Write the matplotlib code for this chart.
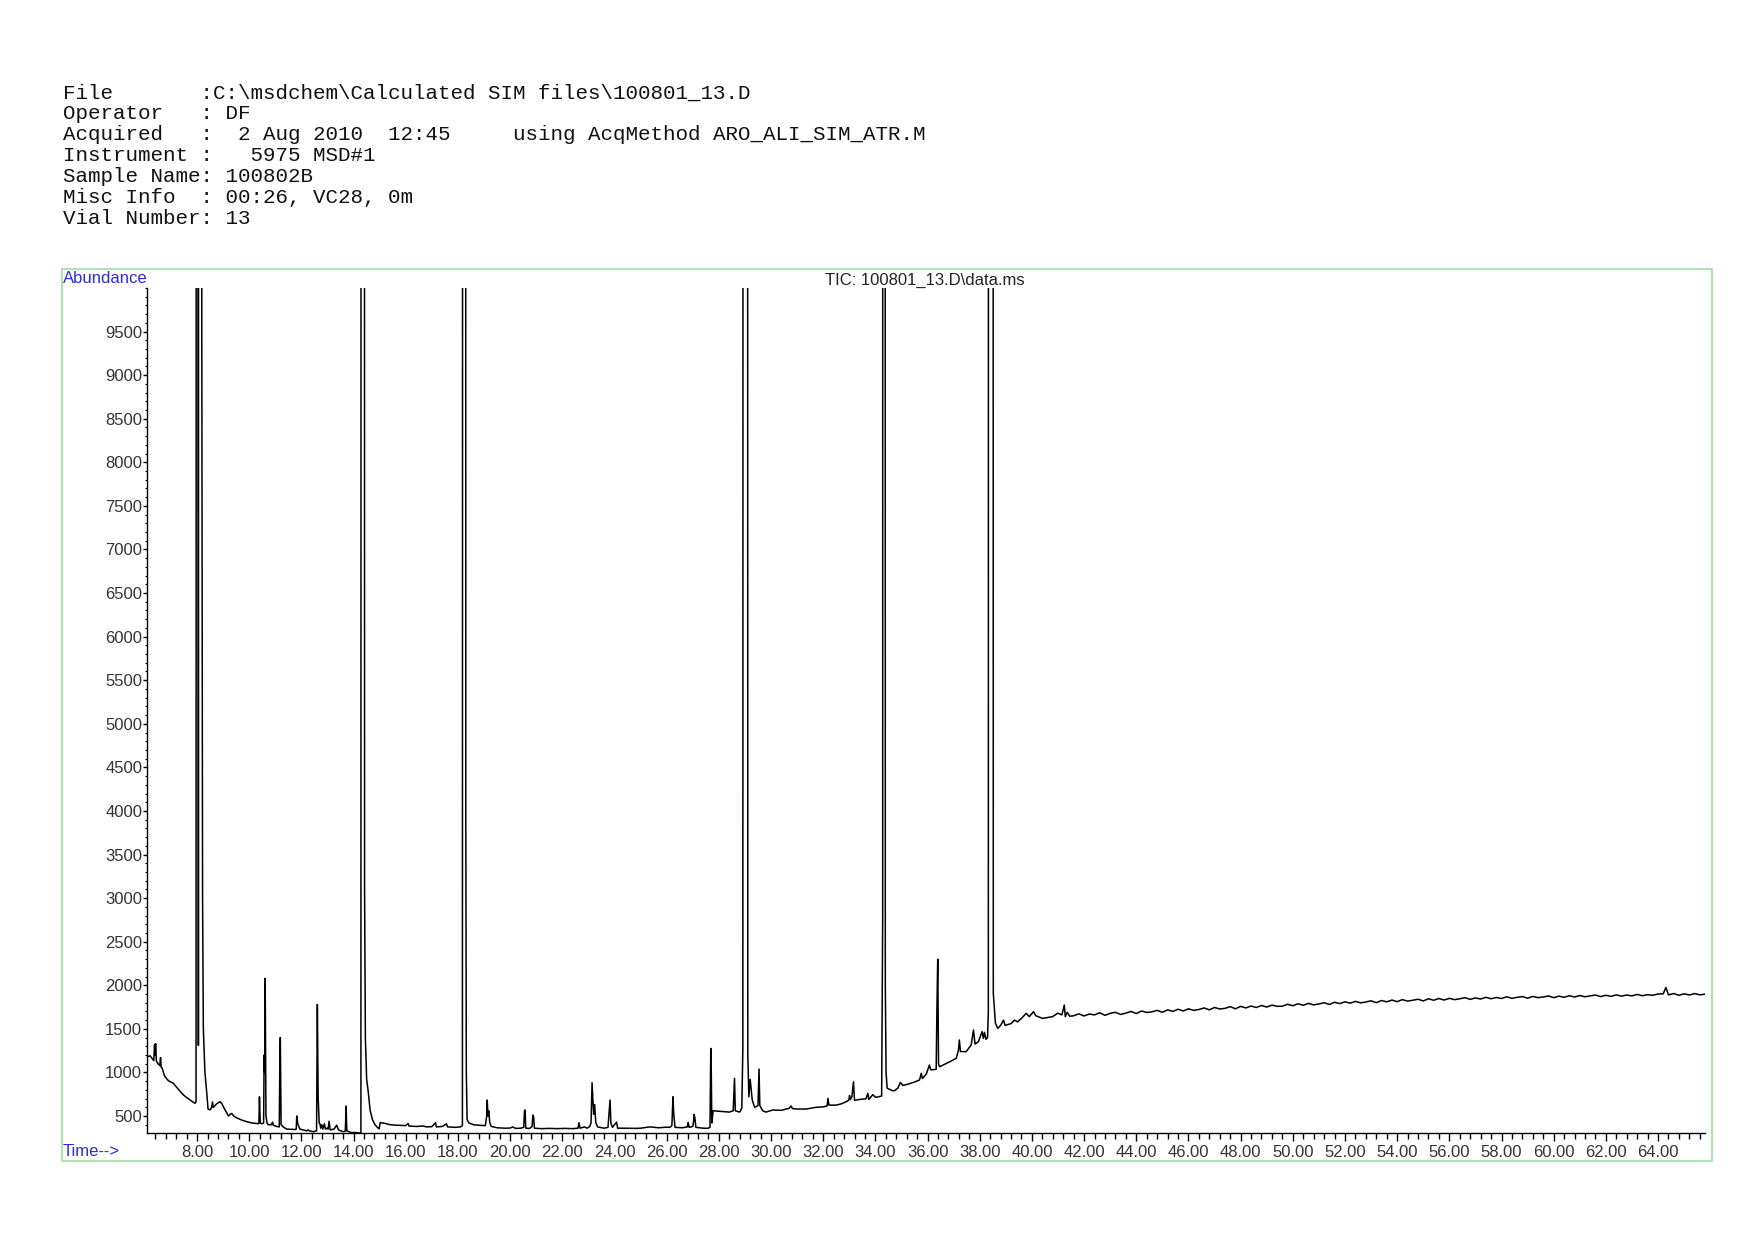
import numpy as np
import matplotlib
matplotlib.use("Agg")
import matplotlib.pyplot as plt
from matplotlib.patches import Rectangle
from matplotlib.ticker import MultipleLocator, FixedLocator

SAT = 60000  # peaks that run off the top of the scale

header_lines = [
    "File       :C:\\msdchem\\Calculated SIM files\\100801_13.D",
    "Operator   : DF",
    "Acquired   :  2 Aug 2010  12:45     using AcqMethod ARO_ALI_SIM_ATR.M",
    "Instrument :   5975 MSD#1",
    "Sample Name: 100802B",
    "Misc Info  : 00:26, VC28, 0m",
    "Vial Number: 13",
]
plot_title = "TIC: 100801_13.D\\data.ms"

# (retention time in min, abundance)
seg_early = [
    (6.08, 1180), (6.20, 1190), (6.30, 1150), (6.34, 1135), (6.37, 1320), (6.39, 1200),
    (6.41, 1330), (6.44, 1130), (6.50, 1100), (6.57, 1080), (6.60, 1170), (6.62, 1060),
    (6.66, 1050), (6.75, 960), (6.90, 905), (7.09, 875), (7.30, 800), (7.48, 740),
    (7.70, 690), (7.92, 645), (7.96, 660), (7.99, SAT), (8.03, SAT), (8.05, 1310),
    (8.06, SAT), (8.13, SAT), (8.18, 9500), (8.21, 3000), (8.24, 1500), (8.30, 1000),
    (8.36, 800), (8.42, 580), (8.50, 570), (8.56, 600), (8.59, 660), (8.62, 600),
    (8.66, 610), (8.75, 640), (8.88, 665), (8.95, 640), (9.07, 570), (9.13, 540),
    (9.20, 500), (9.27, 520), (9.33, 530), (9.40, 500), (9.51, 480), (9.70, 455),
    (9.90, 435), (10.10, 420), (10.35, 412), (10.37, 415), (10.39, 720), (10.42, 420),
    (10.48, 410), (10.55, 420), (10.57, 1200), (10.59, 1000), (10.61, 2080), (10.64, 500),
    (10.68, 420), (10.73, 400), (10.85, 400), (10.89, 430), (10.92, 395), (11.05, 380),
    (11.15, 375), (11.17, 1050), (11.19, 1400), (11.22, 400), (11.30, 375), (11.43, 350),
    (11.75, 345), (11.80, 350), (11.82, 500), (11.86, 410), (11.94, 350), (12.20, 330),
    (12.25, 340), (12.30, 330), (12.46, 320), (12.58, 330), (12.61, 1780), (12.64, 720),
    (12.68, 420), (12.71, 410), (12.74, 360), (12.78, 400), (12.82, 350), (12.88, 410),
    (12.92, 350), (12.98, 360), (13.02, 350), (13.06, 440), (13.10, 340), (13.25, 350),
    (13.35, 395), (13.42, 340), (13.60, 320), (13.68, 325), (13.70, 490), (13.71, 615),
    (13.74, 330), (13.90, 310), (14.10, 310), (14.24, 305), (14.28, 310),
]

seg_mid = [
    (14.30, SAT), (14.40, SAT), (14.42, 3100), (14.45, 1400), (14.50, 920), (14.56, 780),
    (14.63, 570), (14.72, 460), (14.82, 400), (14.94, 360), (14.98, 355), (15.02, 425),
    (15.20, 415), (15.40, 400), (15.60, 395), (16.00, 390), (16.09, 415), (16.12, 385),
    (16.40, 380), (16.67, 385), (16.80, 375), (17.00, 378), (17.14, 423), (17.17, 375),
    (17.40, 380), (17.56, 410), (17.60, 375), (17.90, 370), (18.10, 375), (18.17, 390),
    (18.20, SAT), (18.28, SAT), (18.30, 3900), (18.32, 1000), (18.35, 460), (18.42, 420),
    (18.60, 400), (18.84, 393), (19.05, 390), (19.10, 500), (19.12, 683), (19.15, 500),
    (19.18, 560), (19.22, 420), (19.28, 380), (19.50, 365), (19.80, 360), (20.00, 362),
    (20.10, 375), (20.20, 358), (20.40, 360), (20.52, 370), (20.55, 560), (20.57, 569),
    (20.60, 360), (20.75, 358), (20.84, 380), (20.87, 511), (20.90, 490), (20.93, 360),
    (21.20, 355), (21.50, 358), (21.80, 355), (22.10, 358), (22.40, 355), (22.60, 360),
    (22.64, 423), (22.68, 360), (22.85, 375), (22.95, 360), (23.05, 380), (23.10, 420),
    (23.14, 882), (23.17, 700), (23.20, 520), (23.24, 630), (23.28, 430), (23.35, 375),
    (23.60, 360), (23.75, 370), (23.80, 560), (23.83, 683), (23.86, 420), (23.92, 370),
    (24.08, 430), (24.12, 360), (24.40, 360), (24.80, 358), (25.00, 360), (25.35, 375),
    (25.70, 365), (26.00, 372), (26.12, 370), (26.20, 390), (26.24, 721), (26.27, 530),
    (26.32, 370), (26.60, 365), (26.79, 375), (26.82, 428), (26.86, 370), (27.00, 380),
    (27.03, 430), (27.05, 519), (27.08, 480), (27.12, 370), (27.40, 360), (27.58, 359),
    (27.66, 370), (27.69, 1276), (27.71, 985), (27.73, 420), (27.78, 560), (28.00, 555),
    (28.20, 550), (28.40, 545), (28.55, 560), (28.60, 932), (28.63, 560), (28.80, 545),
    (28.88, 590), (28.92, 1276),
]

seg_late = [
    (28.95, SAT), (29.07, SAT), (29.11, 1200), (29.15, 720), (29.20, 921), (29.24, 800),
    (29.28, 683), (29.37, 600), (29.50, 620), (29.54, 1039), (29.57, 620), (29.68, 560),
    (29.80, 545), (30.07, 569), (30.40, 565), (30.70, 590), (30.77, 615), (30.82, 585),
    (31.00, 580), (31.35, 580), (31.73, 600), (32.00, 605), (32.15, 615), (32.18, 703),
    (32.22, 625), (32.50, 625), (32.70, 640), (32.88, 664), (32.98, 680), (33.01, 735),
    (33.04, 690), (33.10, 720), (33.16, 893), (33.20, 680), (33.40, 690), (33.64, 698),
    (33.71, 760), (33.75, 690), (33.90, 745), (34.00, 715), (34.14, 721), (34.24, 730),
    (34.28, 2800), (34.29, SAT), (34.36, SAT), (34.38, 2000), (34.41, 1000), (34.45, 820),
    (34.54, 806), (34.66, 790), (34.73, 790), (34.86, 820), (34.96, 886), (35.05, 850),
    (35.30, 870), (35.50, 890), (35.69, 913), (35.76, 990), (35.80, 930), (35.95, 980),
    (36.07, 1085), (36.12, 1030), (36.33, 1035), (36.36, 1760), (36.39, 2300), (36.42, 1100),
    (36.46, 1065), (36.70, 1100), (36.90, 1130), (37.10, 1162), (37.18, 1250), (37.22, 1372),
    (37.26, 1240), (37.48, 1238), (37.67, 1314), (37.76, 1486), (37.82, 1326), (37.95, 1353),
    (38.09, 1468), (38.14, 1390), (38.18, 1460), (38.24, 1380), (38.30, 1400), (38.33, 1700),
    (38.35, SAT), (38.48, SAT), (38.52, 1907), (38.60, 1566), (38.69, 1505), (38.80, 1540),
    (38.91, 1600), (38.97, 1540), (39.20, 1560), (39.33, 1600), (39.45, 1580), (39.60, 1620),
    (39.78, 1678), (39.90, 1640), (40.06, 1697), (40.15, 1650), (40.41, 1620), (40.60, 1630),
    (40.79, 1640), (40.99, 1680), (41.15, 1660), (41.24, 1773), (41.28, 1640), (41.35, 1690),
    (41.45, 1645),
]

seg_tail = [
    (41.6, 1650), (41.8, 1672), (42.0, 1648), (42.2, 1670), (42.4, 1660), (42.6, 1685),
    (42.8, 1655), (43.0, 1678), (43.2, 1690), (43.4, 1665), (43.6, 1680), (43.8, 1700),
    (44.0, 1675), (44.2, 1705), (44.4, 1688), (44.6, 1695), (44.8, 1712), (45.0, 1690),
    (45.2, 1718), (45.4, 1700), (45.6, 1725), (45.8, 1705), (46.0, 1730), (46.2, 1712),
    (46.4, 1722), (46.6, 1740), (46.8, 1718), (47.0, 1745), (47.2, 1728), (47.4, 1735),
    (47.6, 1755), (47.8, 1730), (48.0, 1758), (48.2, 1740), (48.4, 1762), (48.6, 1745),
    (48.8, 1768), (49.0, 1750), (49.2, 1772), (49.4, 1758), (49.6, 1760), (49.8, 1782),
    (50.0, 1765), (50.2, 1788), (50.4, 1770), (50.6, 1792), (50.8, 1775), (51.0, 1785),
    (51.2, 1800), (51.4, 1780), (51.6, 1805), (51.8, 1790), (52.0, 1810), (52.2, 1795),
    (52.4, 1815), (52.6, 1798), (52.8, 1808), (53.0, 1822), (53.2, 1800), (53.4, 1825),
    (53.6, 1810), (53.8, 1830), (54.0, 1812), (54.2, 1835), (54.4, 1818), (54.6, 1828),
    (54.8, 1840), (55.0, 1820), (55.2, 1845), (55.4, 1828), (55.6, 1848), (55.8, 1830),
    (56.0, 1850), (56.2, 1835), (56.4, 1845), (56.6, 1858), (56.8, 1838), (57.0, 1855),
    (57.2, 1842), (57.4, 1862), (57.6, 1845), (57.8, 1860), (58.0, 1848), (58.2, 1868),
    (58.4, 1850), (58.6, 1862), (58.8, 1870), (59.0, 1852), (59.2, 1872), (59.4, 1858),
    (59.6, 1865), (59.8, 1878), (60.0, 1858), (60.2, 1875), (60.4, 1862), (60.6, 1880),
    (60.8, 1865), (61.0, 1882), (61.2, 1868), (61.4, 1878), (61.6, 1888), (61.8, 1870),
    (62.0, 1885), (62.2, 1872), (62.4, 1890), (62.6, 1875), (62.8, 1888), (63.0, 1878),
    (63.2, 1895), (63.4, 1880), (63.6, 1892), (63.8, 1885), (64.0, 1900), (64.2, 1902),
    (64.3, 1975), (64.4, 1890), (64.6, 1905), (64.8, 1885), (65.0, 1902), (65.2, 1888),
    (65.4, 1905), (65.6, 1890), (65.8, 1898),
]

x_major = list(range(8, 65, 2))
y_major = list(range(500, 10000, 500))


def main():
    W, H = 1754, 1240
    fig = plt.figure(figsize=(W / 100, H / 100), dpi=100)
    fig.patch.set_facecolor("white")

    # header block, monospaced like the printout
    for i, line in enumerate(header_lines):
        fig.text(63 / W, 1 - (92.8 + 20.9 * i) / H, line, family="Liberation Mono",
                 fontsize=15.05, va="center", ha="left", color="#111111")

    # light green frame round the plot
    fig.add_artist(Rectangle((62 / W, 1 - 1161 / H), (1712 - 62) / W, (1161 - 269) / H,
                             transform=fig.transFigure, fill=False,
                             edgecolor="#a6e3a6", linewidth=1.3))

    ax = fig.add_axes([147 / W, 1 - 1133 / H, (1705 - 147) / W, (1133 - 288) / H])

    pts = seg_early + seg_mid + seg_late + seg_tail
    t = np.array([p[0] for p in pts])
    a = np.array([p[1] for p in pts])
    ax.plot(t, a, color="black", linewidth=1.1)

    ax.set_xlim(6.08, 65.8)
    ax.set_ylim(305, 10000)
    ax.spines["top"].set_visible(False)
    ax.spines["right"].set_visible(False)
    ax.spines["left"].set_linewidth(1.0)
    ax.spines["bottom"].set_linewidth(1.0)

    ax.xaxis.set_major_locator(FixedLocator(x_major))
    ax.set_xticklabels(["%.2f" % v for v in x_major])
    ax.xaxis.set_minor_locator(MultipleLocator(0.4))
    ax.yaxis.set_major_locator(FixedLocator(y_major))
    ax.set_yticklabels([str(v) for v in y_major])
    ax.yaxis.set_minor_locator(MultipleLocator(100))

    for lab in ax.get_xticklabels() + ax.get_yticklabels():
        lab.set_family("Liberation Sans")

    ax.tick_params(axis="x", which="major", length=5.5, width=1, labelsize=12,
                   pad=3, labelcolor="#333333")
    ax.tick_params(axis="x", which="minor", length=4, width=1)
    ax.tick_params(axis="y", which="major", length=3, width=1, labelsize=12,
                   pad=0.5, labelcolor="#333333")
    ax.tick_params(axis="y", which="minor", length=1.8, width=0.8)

    fig.text(63 / W, 1 - 278.5 / H, "Abundance", family="Liberation Sans",
             fontsize=12, color="#2b2bdc", va="center", ha="left")
    fig.text(63 / W, 1 - 1152 / H, "Time-->", family="Liberation Sans",
             fontsize=12, color="#2b2bdc", va="center", ha="left")
    fig.text(925 / W, 1 - 280 / H, plot_title, family="Liberation Sans",
             fontsize=12, color="#222222", va="center", ha="center")

    fig.savefig("out.png", dpi=100, facecolor="white")


if __name__ == '__main__':
    main()
